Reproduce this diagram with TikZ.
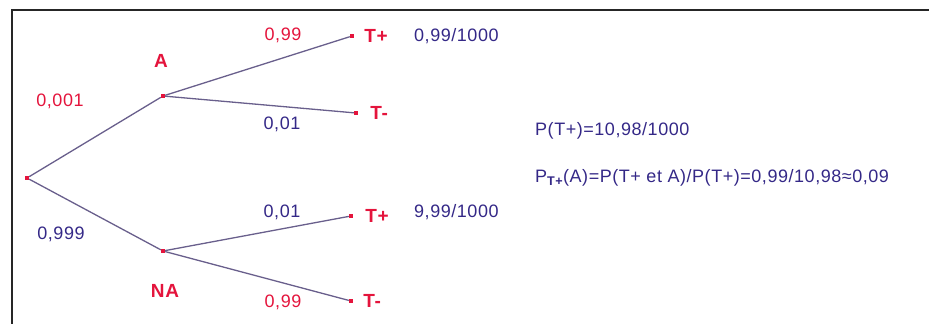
\documentclass[tikz,border=0pt]{standalone}
\usepackage{fontspec}
\setmainfont{Liberation Sans}[LetterSpace=3]
\usetikzlibrary{positioning}

\definecolor{probred}{RGB}{228,20,60}
\definecolor{probblue}{RGB}{52,40,135}
\definecolor{branchgray}{RGB}{105,95,140}

\begin{document}
\begin{tikzpicture}[
  x=1pt, y=-1pt,
  font=\fontsize{18}{21}\selectfont,
  dot/.style={fill=probred, rectangle, minimum size=4pt, inner sep=0pt},
  branch/.style={draw=branchgray, line width=1.3pt},
  event/.style={text=probred, font=\fontsize{19}{22}\selectfont\bfseries, inner sep=0pt},
  pred/.style={text=probred, inner sep=0pt},
  pblue/.style={text=probblue, inner sep=0pt}
]
\useasboundingbox (0,0) rectangle (929,324);
% frame (top and left edges only)
\draw[line width=2pt, black!85] (929,9.5) -- (11.5,9.5) -- (11.5,324);

% tree points
\node[dot] (root) at (27,178) {};
\node[dot] (a) at (163,96) {};
\node[dot] (na) at (163,251) {};
\node[dot] (apos) at (352,36) {};
\node[dot] (aneg) at (356,113) {};
\node[dot] (napos) at (351,216) {};
\node[dot] (naneg) at (351,301) {};

\draw[branch] (root) -- (a);
\draw[branch] (root) -- (na);
\draw[branch] (a) -- (apos);
\draw[branch] (a) -- (aneg);
\draw[branch] (na) -- (napos);
\draw[branch] (na) -- (naneg);

% events
\node[event] at (161,61) (labA) {A};
\node[event] at (165,291) (labNA) {NA};
\node[event, right=10pt of apos] (tpos1) {T+};
\node[event, right=12pt of aneg] (tneg1) {T-};
\node[event, right=12pt of napos] (tpos2) {T+};
\node[event, right=10pt of naneg] (tneg2) {T-};

% probabilities
\node[pred] at (60,101) (p1) {0,001};
\node[pblue] at (61,234) (p2) {0,999};
\node[pred] at (283,35) (p3) {0,99};
\node[pblue] at (282,124) (p4) {0,01};
\node[pblue] at (282,212) (p5) {0,01};
\node[pred] at (283,302) (p6) {0,99};

% results
\node[pblue, anchor=west] at (414,36) (r1) {0,99/1000};
\node[pblue, anchor=west] at (414,212) (r2) {9,99/1000};
\node[pblue, anchor=west] at (535,131) (total) {P(T+)=10,98/1000};
\node[pblue, anchor=west] at (535,178) (bayes) {P\textsubscript{\bfseries T+}(A)=P(T+ et A)/P(T+)=0,99/10,98≈0,09};
\end{tikzpicture}
\end{document}
